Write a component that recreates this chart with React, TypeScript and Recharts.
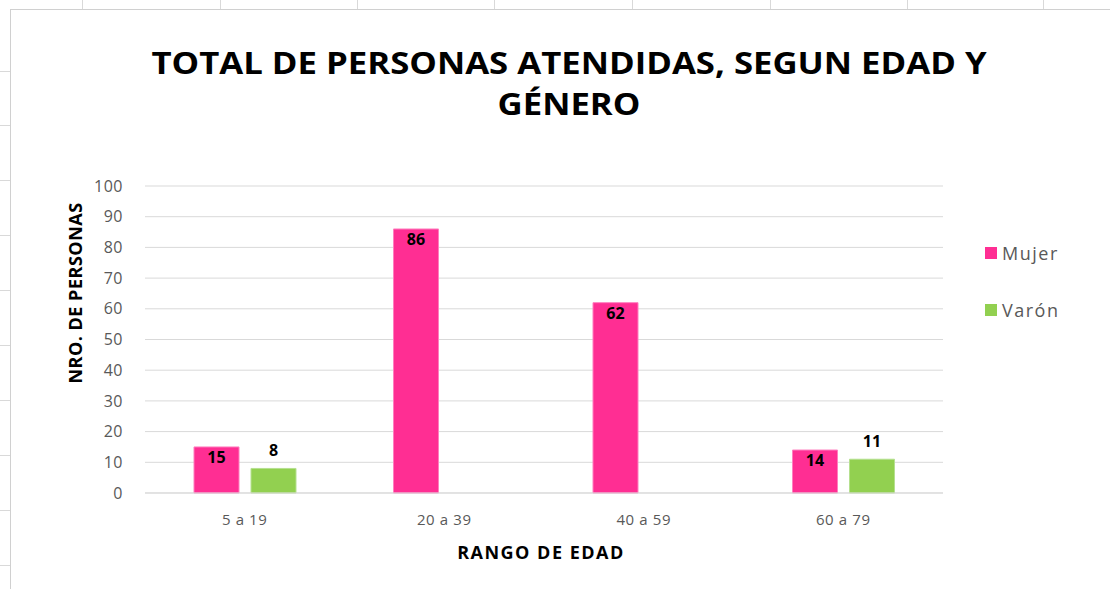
import React from 'react';
import { BarChart, Bar, XAxis, YAxis, CartesianGrid, LabelList } from 'recharts';

const categories = ['5 a 19', '20 a 39', '40 a 59', '60 a 79'];
const mujer = [15, 86, 62, 14];
const varon = [8, null, null, 11];
const yTicks = [0, 10, 20, 30, 40, 50, 60, 70, 80, 90, 100];
const seriesNames = ['Mujer', 'Varón'];

const data = categories.map((c, i) => ({ name: c, Mujer: mujer[i], 'Varón': varon[i] }));

const PINK = '#FF2E93';
const GREEN = '#92D050';
const COLORS = [PINK, GREEN];
const FONT = "'Open Sans', 'Liberation Sans', sans-serif";

const XTick = (props: any) => {
  const { x, y, payload } = props;
  return (
    <text x={x} y={y} dy={12} textAnchor="middle" fill="#595959" fontSize={15} fontFamily={FONT} letterSpacing={0.6}>
      {payload.value}
    </text>
  );
};

export default function App() {
  const topTicks = [82, 220, 357, 494, 632, 770, 907, 1043];
  const leftTicks = [71, 125, 180, 235, 290, 345, 400, 455, 510, 565];
  return (
    <div style={{ position: 'absolute', left: 0, top: 0, width: 1110, height: 589, background: '#fff', overflow: 'hidden', fontFamily: FONT }}>
      {topTicks.map((x) => (
        <div key={'t' + x} style={{ position: 'absolute', left: x, top: 0, width: 1, height: 9, background: '#d9d9d9' }} />
      ))}
      {leftTicks.map((y) => (
        <div key={'l' + y} style={{ position: 'absolute', left: 0, top: y, width: 10, height: 1, background: '#d9d9d9' }} />
      ))}
      <div style={{ position: 'absolute', left: 10, top: 9, width: 1100, height: 580, borderLeft: '1px solid #d0d0d0', borderTop: '1px solid #d0d0d0' }} />
      <div style={{ position: 'absolute', left: 0, top: 42, width: 1138, textAlign: 'center', fontWeight: 700, fontSize: 31, lineHeight: '41px', color: '#000', transform: 'scaleX(1.12)', transformOrigin: '569px 0' }}>
        TOTAL DE PERSONAS ATENDIDAS, SEGUN EDAD Y<br />GÉNERO
      </div>
      <div style={{ position: 'absolute', left: 75, top: 293, transform: 'translate(-50%, -50%) rotate(-90deg)', whiteSpace: 'nowrap', fontWeight: 700, fontSize: 18, letterSpacing: 0.5, color: '#000' }}>
        NRO. DE PERSONAS
      </div>
      <div style={{ position: 'absolute', left: 541, top: 552, transform: 'translate(-50%, -50%)', whiteSpace: 'nowrap', fontWeight: 700, fontSize: 18, letterSpacing: 1.5, color: '#000' }}>
        RANGO DE EDAD
      </div>
      <div style={{ position: 'absolute', left: 985, top: 224 }}>
        {seriesNames.map((n, i) => (
          <div key={n} style={{ display: 'flex', alignItems: 'center', height: 57, color: '#595959', fontSize: 18, letterSpacing: 1.5 }}>
            <span style={{ display: 'inline-block', width: 12, height: 12, background: COLORS[i], marginRight: 5 }} />
            <span>{n}</span>
          </div>
        ))}
      </div>
      <div style={{ position: 'absolute', left: 0, top: 0 }}>
        <BarChart
          width={1110}
          height={589}
          data={data}
          margin={{ top: 186, right: 167, bottom: 0, left: 85 }}
          barGap={12}
          barSize={45}
        >
          <CartesianGrid vertical={false} stroke="#d9d9d9" strokeWidth={1} />
          <XAxis
            dataKey="name"
            height={96}
            axisLine={{ stroke: '#d9d9d9' }}
            tickLine={false}
            tick={<XTick />}
            tickMargin={14}
          />
          <YAxis
            width={60}
            domain={[0, 100]}
            ticks={yTicks}
            interval={0}
            axisLine={false}
            tickLine={false}
            tick={{ fill: '#595959', fontSize: 16, fontFamily: FONT, letterSpacing: 0.5 }}
            tickMargin={16}
          />
          <Bar dataKey="Mujer" fill={PINK} stroke="#ff7fbf" strokeWidth={1} isAnimationActive={false}>
            <LabelList dataKey="Mujer" position="insideTop" offset={5} fill="#000" fontSize={16} fontWeight={700} fontFamily={FONT} />
          </Bar>
          <Bar dataKey="Varón" fill={GREEN} stroke="#b5e08f" strokeWidth={1} isAnimationActive={false}>
            <LabelList dataKey="Varón" position="top" offset={12} fill="#000" fontSize={16} fontWeight={700} fontFamily={FONT} />
          </Bar>
        </BarChart>
      </div>
    </div>
  );
}
